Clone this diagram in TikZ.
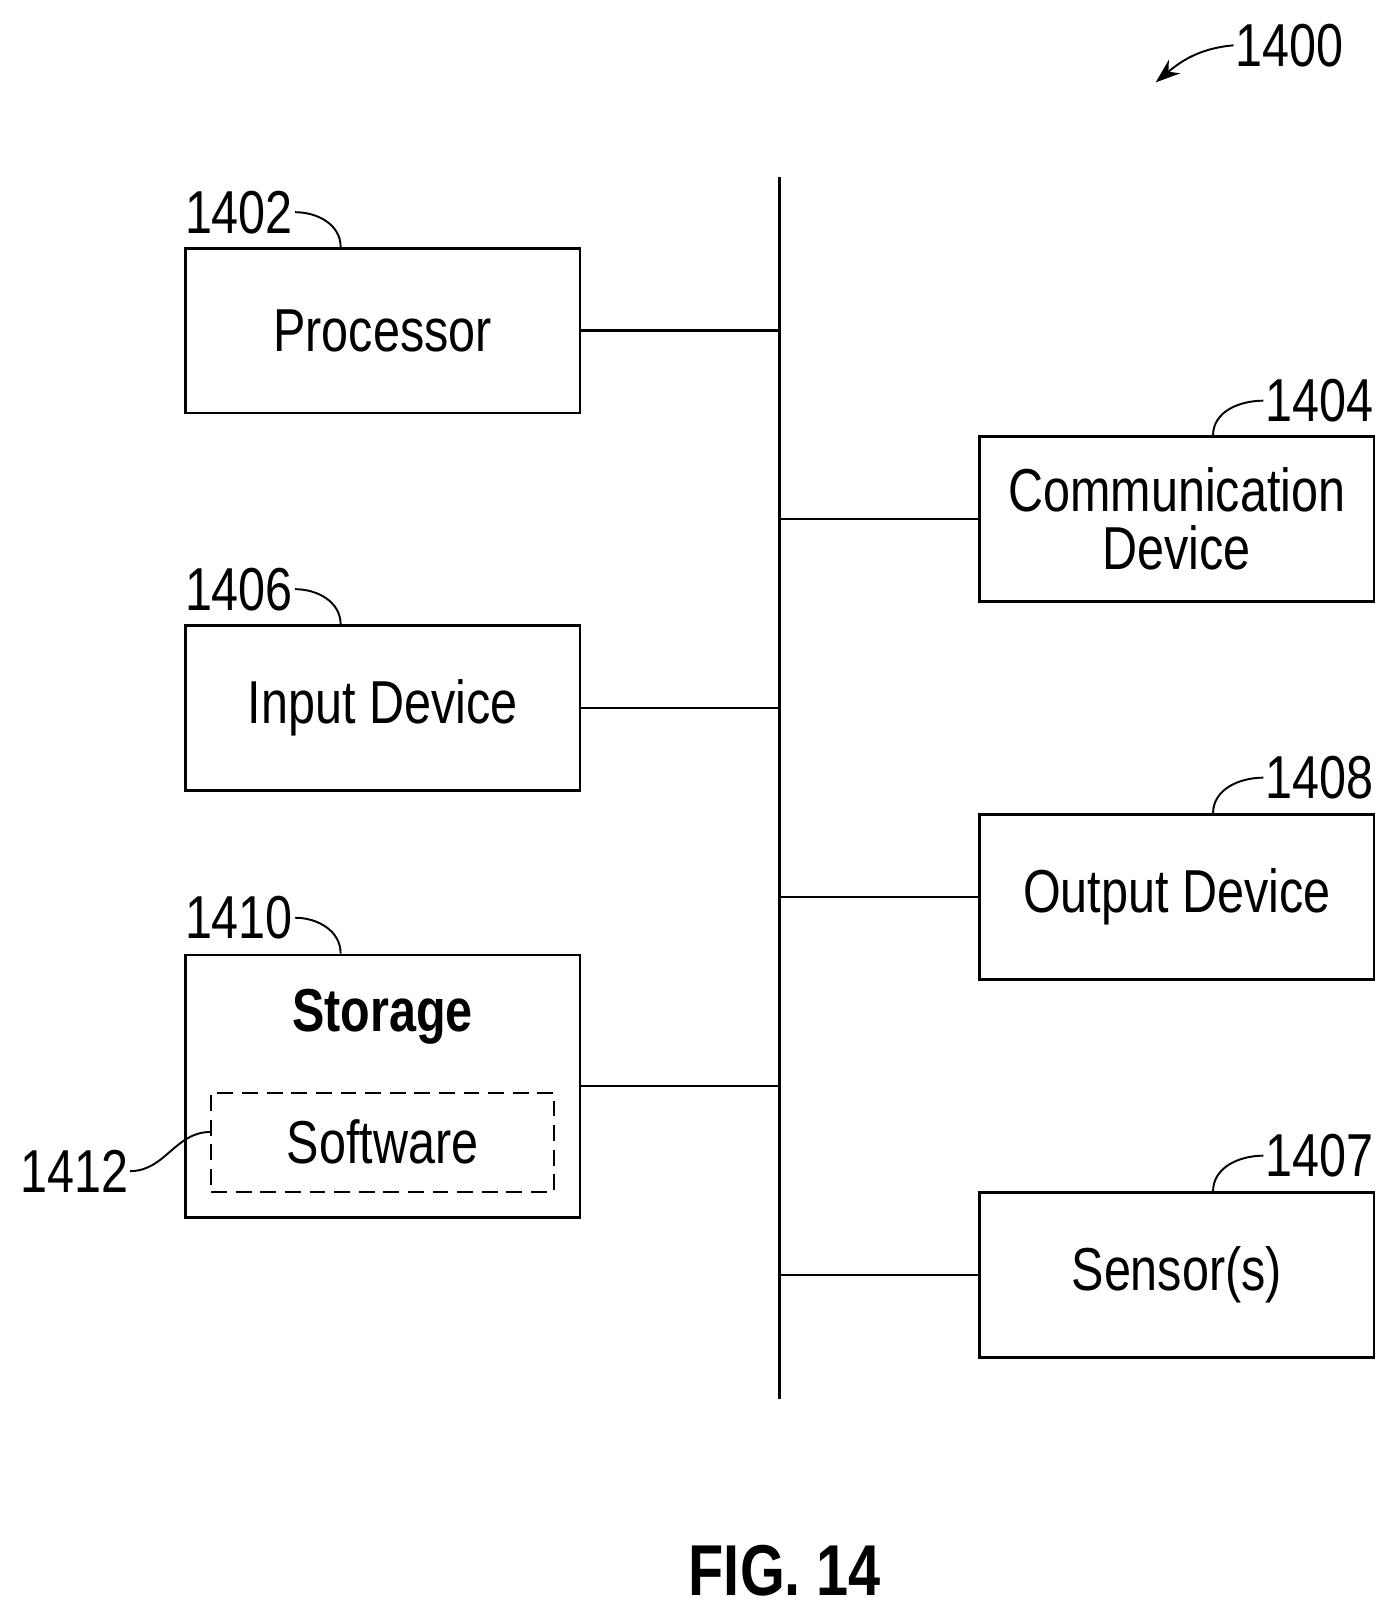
\documentclass[tikz,border=0pt]{standalone}
\usepackage{fontspec}
\setmainfont{Liberation Sans}[FakeStretch=0.8]
\usetikzlibrary{positioning,calc,arrows.meta}
\begin{document}
\begin{tikzpicture}[x=0.0206cm,y=-0.0206cm,
        every node/.style={font=\fontsize{34.5}{39}\selectfont},
        blk/.style={draw, line width=1.5pt, minimum width=383*0.0206cm, minimum height=160*0.0206cm, align=center, inner sep=0pt},
        lbl/.style={inner sep=1pt},
        lead/.style={line width=1.1pt}
    ]
        \useasboundingbox (0,0) rectangle (1355,1567);
        % bus
        \coordinate (bt) at (757,172);
        \coordinate (bb) at (757,1358);
        \draw[line width=1.5pt] (bt) -- (bb);

        % left column
        \node[blk] (proc) at (371.5,321) {Processor};
        \node[blk] (inp) at (371.5,687.5) {Input Device};
        \node[blk, minimum height=255*0.0206cm] (stor) at (371.5,1054.5) {};
        \node[font=\fontsize{34.5}{39}\selectfont\bfseries] (storT) at (371.5,987) {Storage};
        \node[draw, dash pattern=on 9pt off 5pt, line width=1.1pt, minimum width=333*0.0206cm, minimum height=96*0.0206cm, inner sep=0pt] (soft) at (371.5,1109) {Software};

        % right column
        \node[blk, text width=383*0.0206cm] (comm) at (1142.5,504) {Communication\\[-6pt]Device};
        \node[blk] (outp) at (1142.5,871) {Output Device};
        \node[blk] (sens) at (1142.5,1238) {Sensor(s)};

        % connectors
        \draw[line width=1.5pt] (proc.east) -- (proc.east -| bt);
        \draw[line width=1.5pt] (inp.east) -- (inp.east -| bt);
        \draw[line width=1.5pt] (stor.east) -- (stor.east -| bt);
        \draw[line width=1.5pt] (comm.west) -- (comm.west -| bt);
        \draw[line width=1.5pt] (outp.west) -- (outp.west -| bt);
        \draw[line width=1.5pt] (sens.west) -- (sens.west -| bt);

        % reference numerals
        \node[lbl] (l1402) at (232,206) {1402};
        \node[lbl] (l1406) at (232,572) {1406};
        \node[lbl] (l1410) at (232,891) {1410};
        \node[lbl] (l1404) at (1281,389) {1404};
        \node[lbl] (l1408) at (1281,755) {1408};
        \node[lbl] (l1407) at (1281,1122) {1407};
        \node[lbl] (l1412) at (72,1137) {1412};
        \node[lbl] (l1400) at (1252,44) {1400};

        \draw[lead] (l1402.east) to[out=0,in=90] ($(proc.north west)+(152,0)$);
        \draw[lead] (l1406.east) to[out=0,in=90] ($(inp.north west)+(152,0)$);
        \draw[lead] (l1410.east) to[out=0,in=90] ($(stor.north west)+(152,0)$);
        \draw[lead] (l1404.west) to[out=180,in=90] ($(comm.north west)+(228,0)$);
        \draw[lead] (l1408.west) to[out=180,in=90] ($(outp.north west)+(228,0)$);
        \draw[lead] (l1407.west) to[out=180,in=90] ($(sens.north west)+(228,0)$);
        \draw[lead] (l1412.east) to[out=0,in=180] ($(soft.west)+(0,-10)$);
        \draw[lead, -{Stealth[length=14pt,width=10pt]}] (l1400.west) to[out=185,in=40] (1122,80);

        \node[font=\fontsize{41}{46}\selectfont\bfseries] (fig) at (762,1525) {FIG. 14};
    \end{tikzpicture}
\end{document}
